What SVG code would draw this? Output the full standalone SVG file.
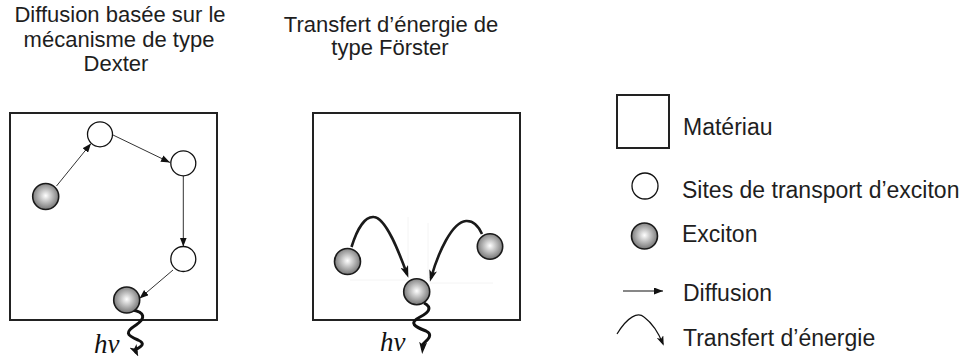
<svg xmlns="http://www.w3.org/2000/svg" width="964" height="361" viewBox="0 0 964 361">
<defs>
<radialGradient id="exc" cx="50%" cy="47%" r="55%">
<stop offset="0%" stop-color="#ffffff"/>
<stop offset="100%" stop-color="#707070"/>
</radialGradient>
<marker id="tri" viewBox="0 0 9 7" refX="9" refY="3.5" markerWidth="9" markerHeight="7" markerUnits="userSpaceOnUse" orient="auto">
<path d="M0,0 L9,3.5 L0,7 z" fill="#111"/>
</marker>
<marker id="barb" viewBox="0 0 12 8" refX="8" refY="4" markerWidth="12" markerHeight="8" markerUnits="userSpaceOnUse" orient="auto">
<path d="M0,0 L12,4 L0,8 L3,4 z" fill="#111"/>
</marker>
<marker id="barbs" viewBox="0 0 10 7" refX="8" refY="3.5" markerWidth="10" markerHeight="7" markerUnits="userSpaceOnUse" orient="auto">
<path d="M0,0 L10,3.5 L0,7 L2.5,3.5 z" fill="#111"/>
</marker>
</defs>
<style>
.t{font-family:"Liberation Sans",Arial,sans-serif;font-size:22px;fill:#1e1e1e}
.lg{font-family:"Liberation Sans",Arial,sans-serif;font-size:23px;fill:#1e1e1e}
.hv{font-family:"Liberation Serif","Times New Roman",serif;font-size:27px;font-style:italic;fill:#111}
.box{fill:#fff;stroke:#222;stroke-width:2}
.site{fill:#fff;stroke:#111;stroke-width:1.3}
.exc{fill:url(#exc);stroke:#1a1a1a;stroke-width:1.6}
.dif{fill:none;stroke:#333;stroke-width:1;marker-end:url(#tri)}
.tr{fill:none;stroke:#1a1a1a;stroke-width:2.6;marker-end:url(#barb)}
.wave{fill:none;stroke:#111;stroke-width:3;marker-end:url(#barb)}
.faint{stroke:#f4f4f4;stroke-width:1;fill:none}
</style>

<g id="title-dexter">
<text class="t" x="120" y="22" text-anchor="middle">Diffusion basée sur le</text>
<text class="t" x="119" y="46.5" text-anchor="middle">mécanisme de type</text>
<text class="t" x="116" y="71" text-anchor="middle">Dexter</text>
</g>
<g id="title-forster">
<text class="t" x="391" y="31.5" text-anchor="middle">Transfert d’énergie de</text>
<text class="t" x="390" y="55" text-anchor="middle">type Förster</text>
</g>

<g id="box-dexter"><rect class="box" x="10" y="113" width="207" height="207"/></g>
<g id="box-forster"><rect class="box" x="313" y="113" width="207" height="207"/>
<path class="faint" d="M408,217 V277 M428,223 V280 M350,280 H408 M430,283 H493"/></g>

<g id="connectors">
<line class="dif" x1="56.5" y1="186" x2="91" y2="143.5"/>
<line class="dif" x1="113" y1="135" x2="170" y2="162.5"/>
<line class="dif" x1="183.3" y1="176" x2="183.3" y2="246.5"/>
<line class="dif" x1="173" y1="270" x2="139.5" y2="298.5"/>
<path class="tr" d="M351.5,247 C357,229 365,216 374,217 C386,218 399,252 407,274"/>
<path class="tr" d="M482,234 C478,225 473,220.5 466,221 C452,222 438,253 431,278"/>
<path class="wave" d="M132,310 C145,312 146,318 136,325 C125,332 126,335 138,340 C147,344 140,347 135,350 L136.5,353"/>
<path class="wave" d="M424,303 C432,307 430,312 420,317 C408,323 415,327 426,331 C434,335 427,340 423,344 L422.5,350"/>
</g>

<g id="dexter-exciton-start"><circle class="exc" cx="45.7" cy="196.5" r="13"/></g>
<g id="dexter-site-1"><circle class="site" cx="100" cy="134.3" r="12.5"/></g>
<g id="dexter-site-2"><circle class="site" cx="183.3" cy="163.3" r="12.5"/></g>
<g id="dexter-site-3"><circle class="site" cx="183.3" cy="259" r="12.5"/></g>
<g id="dexter-exciton-end"><circle class="exc" cx="126.7" cy="300" r="13"/></g>
<g id="dexter-hv"><text class="hv" x="94" y="353">hν</text></g>

<g id="forster-exciton-left"><circle class="exc" cx="347.5" cy="261.5" r="13"/></g>
<g id="forster-exciton-right"><circle class="exc" cx="490" cy="246.5" r="12.7"/></g>
<g id="forster-exciton-center"><circle class="exc" cx="416.7" cy="291.7" r="13"/></g>
<g id="forster-hv"><text class="hv" x="380" y="351">hν</text></g>

<g id="legend">
<g id="legend-material"><rect class="box" x="617" y="95" width="52" height="53"/>
<text class="lg" x="683" y="135">Matériau</text></g>
<g id="legend-site"><circle class="site" cx="645" cy="186" r="13"/>
<text class="lg" x="682" y="197.5">Sites de transport d’exciton</text></g>
<g id="legend-exciton"><circle class="exc" cx="644.5" cy="236" r="13"/>
<text class="lg" x="682" y="242">Exciton</text></g>
<g id="legend-diffusion"><line x1="623" y1="291" x2="663" y2="291" stroke="#111" stroke-width="1.2" marker-end="url(#tri)"/>
<text class="lg" x="683" y="300.5">Diffusion</text></g>
<g id="legend-transfer"><path d="M617,334 C628,316 638,312 644,317 C652,323 659,334 663,344" fill="none" stroke="#111" stroke-width="1.2" marker-end="url(#barbs)"/>
<text class="lg" x="683" y="346">Transfert d’énergie</text></g>
</g>
</svg>
